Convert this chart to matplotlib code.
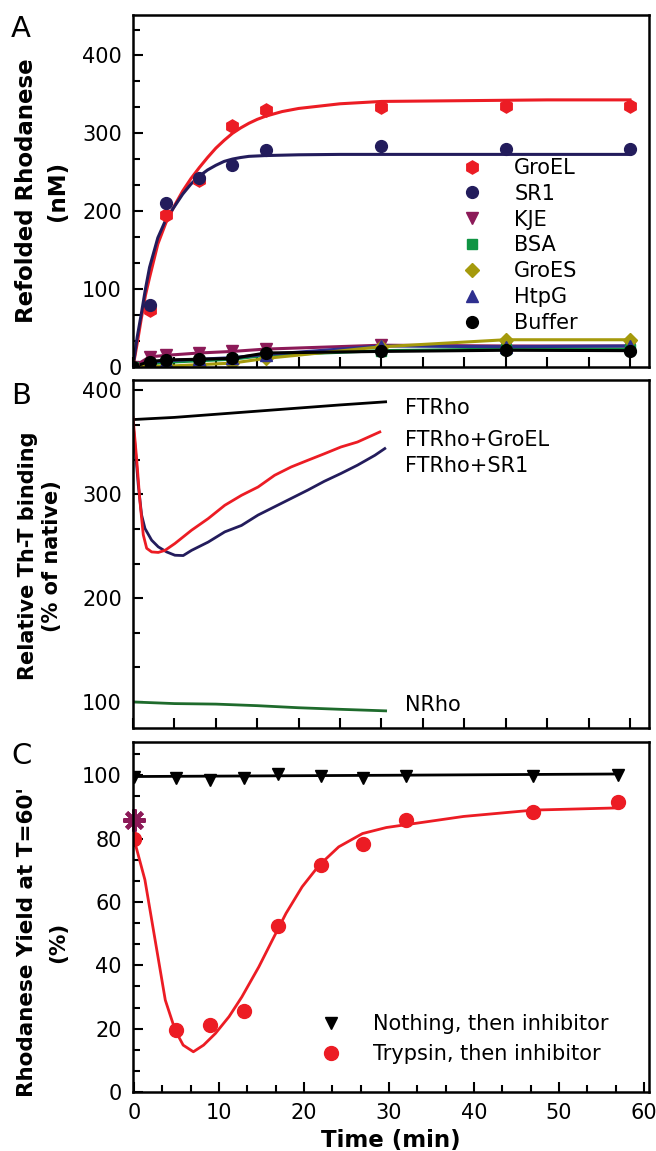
"""Three stacked panels: rhodanese refolding, Th-T binding, and trypsin yield."""

import matplotlib

matplotlib.use("Agg")
import matplotlib.pyplot as plt
from matplotlib.ticker import AutoMinorLocator, MultipleLocator

# ---- panel A: refolded rhodanese (nM) ----
a_time = [0, 2, 4, 8, 12, 16, 30, 45, 60]
a_groel = [0, 73, 195, 240, 309, 330, 334, 335, 335]
a_sr1 = [0, 80, 210, 243, 260, 279, 284, 280, 280]
a_kje = [0, 13, 15, 18, 20, 23, 28, 27, 27]
a_bsa = [0, 4, 6, 8, 10, 15, 21, 23, 23]
a_groes = [0, 1, 1, 3, 5, 11, 26, 35, 35]
a_htpg = [0, 6, 8, 10, 12, 16, 27, 26, 27]
a_buffer = [0, 7, 9, 10, 11, 18, 20, 21.5, 21]

# fitted curves
a_fit_t = [0, 0.5, 1, 1.5, 2, 3, 4, 5, 6, 7, 8, 9, 10, 11, 12, 13, 14, 15, 16,
           18, 20, 25, 30, 40, 50, 60]
a_fit_groel = [0, 30, 62, 92, 115, 158, 186, 207, 226, 242, 256, 269, 281, 291,
               300, 307, 313, 318, 322, 328, 332, 338, 341, 342, 343, 343]
a_fit_sr1 = [0, 38, 68, 100, 128, 166, 190, 206, 222, 235, 245, 253, 259, 264,
             267, 269, 270.5, 271, 271.5, 272, 272.5, 273, 273, 273, 273, 273]

# ---- panel B: relative Th-T binding (% of native) ----
b_ftrho_t = [0.2, 5, 10, 15, 20, 25, 30.5]
b_ftrho = [372, 374, 377, 380, 383, 386, 389]
b_groel_t = [0, 0.44, 0.84, 1.24, 1.65, 2.25, 3.05, 3.86, 5.06, 7.07, 9.08,
             11.08, 13.1, 15.1, 17.1, 19.1, 21.1, 23.1, 25.1, 27.1, 29.8]
b_groel = [374, 334, 293, 261, 248, 244.5, 244, 246, 252.6, 265.4, 276.6,
           289.4, 299, 307, 318.3, 326.3, 332.7, 339, 345.5, 350.3, 360]
b_sr1_t = [0.1, 0.24, 0.64, 1.04, 1.45, 2.25, 3.05, 4.06, 5.06, 6.06, 7.07,
           9.08, 11.08, 13.1, 15.1, 17.1, 19.1, 21.1, 23.1, 25.1, 27.1, 29.2,
           30.4]
b_sr1 = [360, 347, 308.6, 280, 267, 255.8, 249.4, 244.5, 241.3, 241, 246, 254,
         263.8, 270, 280, 288, 296, 304, 312.5, 320, 328, 337.5, 344]
b_nrho_t = [0.2, 5, 10, 15, 20, 25, 30.5]
b_nrho = [100, 98.5, 98, 96.5, 94.5, 93, 91.5]
b_labels = ["FTRho", "FTRho+GroEL", "FTRho+SR1", "NRho"]
b_label_y = [382.7, 352.6, 327, 97.4]

# ---- panel C: rhodanese yield at T=60' (%) ----
c_time = [0, 5, 9, 13, 17, 22, 27, 32, 47, 57]
c_nothing = [99.5, 99, 98.4, 99, 100.3, 99.7, 99.2, 99.8, 99.7, 100.2]
c_trypsin = [80, 19.6, 21.1, 25.7, 52.4, 71.6, 78.4, 85.8, 88.4, 91.6]
c_nothing_fit_t = [0, 30, 57]
c_nothing_fit = [99.6, 100.0, 100.4]
c_fit_t = [0, 1.3, 2.5, 3.7, 4.85, 5.8, 7.0, 8.2, 9.6, 11.2, 12.7, 14.7, 16.3,
           17.9, 19.8, 21.8, 24.1, 26.9, 29.7, 34.4, 38.8, 47, 57]
c_fit = [80, 67, 48, 29, 19.6, 14.8, 12.7, 14.8, 18.5, 23.8, 30, 39.5, 48,
         56.4, 64.8, 71.6, 77.4, 81.6, 83.5, 85.3, 87, 89, 89.7]
c_star_t = [0]
c_star = [85.8]

RED = "#ec1c24"
NAVY = "#231c5c"
PURPLE = "#8c1a58"
GREEN = "#0f9443"
OLIVE = "#a59a0c"
BLUE = "#2e2f8f"
DKGREEN = "#1e6b2c"

TICK = 15
W, H = 656, 1151


def style(ax):
    for s in ax.spines.values():
        s.set_linewidth(1.8)
    ax.tick_params(which="both", direction="in", top=False, right=False,
                   width=1.5, labelsize=TICK, pad=8)
    ax.tick_params(which="major", length=7)
    ax.tick_params(which="minor", length=5)


def axes_px(fig, top, bottom, left=133, right=649):
    return fig.add_axes([left / W, 1 - bottom / H, (right - left) / W,
                         (bottom - top) / H])


fig = plt.figure(figsize=(W / 100, H / 100), dpi=100)

# panel A
ax = axes_px(fig, 15, 367)
style(ax)
ms = 8.5
ax.plot(a_fit_t, a_fit_groel, color=RED, lw=2.2)
ax.plot(a_fit_t, a_fit_sr1, color=NAVY, lw=2.2)
for vals, c in [(a_kje, PURPLE), (a_bsa, GREEN), (a_htpg, BLUE),
                (a_groes, OLIVE), (a_buffer, "black")]:
    ax.plot(a_time, vals, color=c, lw=2.2)
ax.plot(a_time, a_groel, "h", color=RED, ms=ms + 1, label="GroEL")
ax.plot(a_time, a_sr1, "o", color=NAVY, ms=ms, label="SR1")
ax.plot(a_time, a_kje, "v", color=PURPLE, ms=ms, label="KJE")
ax.plot(a_time, a_bsa, "s", color=GREEN, ms=ms - 1, label="BSA")
ax.plot(a_time, a_groes, "D", color=OLIVE, ms=ms - 1, label="GroES")
ax.plot(a_time, a_htpg, "^", color=BLUE, ms=ms, label="HtpG")
ax.plot(a_time, a_buffer, "o", color="black", ms=ms, label="Buffer")
ax.set_xlim(0, 62.3)
ax.set_ylim(0, 452)
ax.xaxis.set_major_locator(MultipleLocator(5))
ax.yaxis.set_major_locator(MultipleLocator(100))
ax.yaxis.set_minor_locator(AutoMinorLocator(3))
ax.set_xticklabels([])
ax.legend(loc="upper left", bbox_to_anchor=(0.636, 0.594), frameon=False,
          fontsize=TICK, handlelength=1.0, handletextpad=1.55,
          labelspacing=0.28, borderpad=0, borderaxespad=0)

# panel B
ax = axes_px(fig, 380, 728)
style(ax)
ax.plot(b_ftrho_t, b_ftrho, color="black", lw=2)
ax.plot(b_sr1_t, b_sr1, color=NAVY, lw=2)
ax.plot(b_groel_t, b_groel, color=RED, lw=2)
ax.plot(b_nrho_t, b_nrho, color=DKGREEN, lw=2)
ax.set_xlim(0, 62.3)
ax.set_ylim(75, 410)
ax.xaxis.set_major_locator(MultipleLocator(5))
ax.yaxis.set_major_locator(MultipleLocator(100))
ax.yaxis.set_minor_locator(AutoMinorLocator(3))
ax.set_xticklabels([])
for txt, y in zip(b_labels, b_label_y):
    ax.text(32.8, y, txt, fontsize=TICK, va="center", ha="left")

# panel C
ax = axes_px(fig, 742, 1092)
style(ax)
ax.plot(c_nothing_fit_t, c_nothing_fit, color="black", lw=2)
ax.plot(c_fit_t, c_fit, color=RED, lw=2)
ax.plot(c_time, c_nothing, "v", color="black", ms=8.5,
        label="Nothing, then inhibitor")
ax.plot(c_time, c_trypsin, "o", color=RED, ms=10,
        label="Trypsin, then inhibitor")
ax.plot(c_star_t, c_star, marker=(8, 2, 0), color=PURPLE, ms=16, mew=3,
        linestyle="none", clip_on=False)
ax.set_xlim(-0.1, 60.6)
ax.set_ylim(0, 110.5)
ax.xaxis.set_major_locator(MultipleLocator(10))
ax.xaxis.set_minor_locator(AutoMinorLocator(3))
ax.yaxis.set_major_locator(MultipleLocator(20))
ax.yaxis.set_minor_locator(AutoMinorLocator(3))
ax.set_xlabel("Time (min)", fontsize=16.5, fontweight="bold", labelpad=4)
ax.legend(loc="upper left", bbox_to_anchor=(0.364, 0.222), frameon=False,
          fontsize=TICK, handlelength=1.0, handletextpad=1.52,
          labelspacing=0.46, borderpad=0, borderaxespad=0)

# y axis titles and panel letters
ylab = [("Refolded Rhodanese\n(nM)", 42, 191, 16.5, 1.45),
        ("Relative Th-T binding\n(% of native)", 40, 556, 15, 1.25),
        ("Rhodanese Yield at T=60'\n(%)", 42.5, 942, 15.5, 1.65)]
for txt, x, y, fs, ls in ylab:
    fig.text(x / W, 1 - y / H, txt, rotation=90, ha="center", va="center",
             fontsize=fs, fontweight="bold", linespacing=ls,
             multialignment="center")
for letter, y in [("A", 15), ("B", 382), ("C", 742)]:
    fig.text(11 / W, 1 - y / H, letter, fontsize=21, va="top", ha="left")

fig.savefig("out.png", dpi=100)
